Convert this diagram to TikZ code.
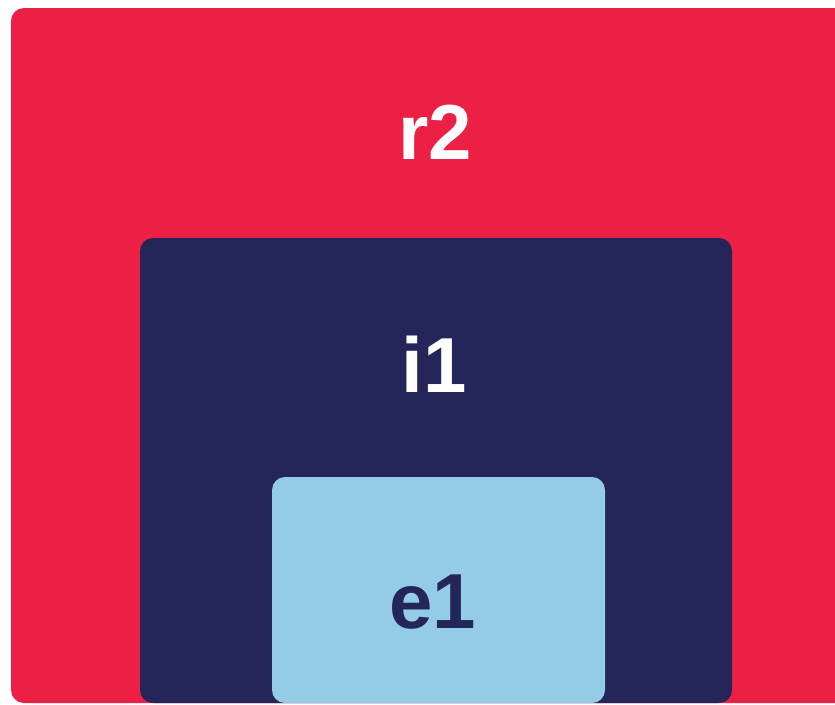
\documentclass[tikz,border=0pt]{standalone}
\usepackage{fontspec}
\setmainfont{Liberation Sans}
\usetikzlibrary{positioning}
\definecolor{ringred}{RGB}{236,31,68}
\definecolor{ringnavy}{RGB}{36,37,88}
\definecolor{ringblue}{RGB}{148,203,230}
\tikzset{
  ring/.style={rectangle, rounded corners=13pt, inner sep=0pt, draw=none},
  tag/.style={inner sep=0pt, font=\fontsize{78}{78}\selectfont\bfseries}
}
\begin{document}
\begin{tikzpicture}[x=1pt, y=-1pt]
  \useasboundingbox (0,0) rectangle (835,704);
  \clip (0,0) rectangle (835,704);
  % nested boxes
  \node[ring, fill=ringred, minimum width=850pt, minimum height=695pt] (r2) at (436,355.5) {};
  \node[ring, fill=ringnavy, minimum width=592pt, minimum height=465pt] (i1) at (436,470.5) {};
  \node[ring, fill=ringblue, minimum width=333pt, minimum height=226pt] (e1) at (438.5,590) {};
  % labels
  \node[tag, text=white, below=97pt of r2.north, xshift=-1pt] (r2 tag) {r2};
  \node[tag, text=white, below=98pt of i1.north, xshift=-2pt] (i1 tag) {i1};
  \node[tag, text=ringnavy, below=98pt of e1.north, xshift=-6pt] (e1 tag) {e1};
\end{tikzpicture}
\end{document}
